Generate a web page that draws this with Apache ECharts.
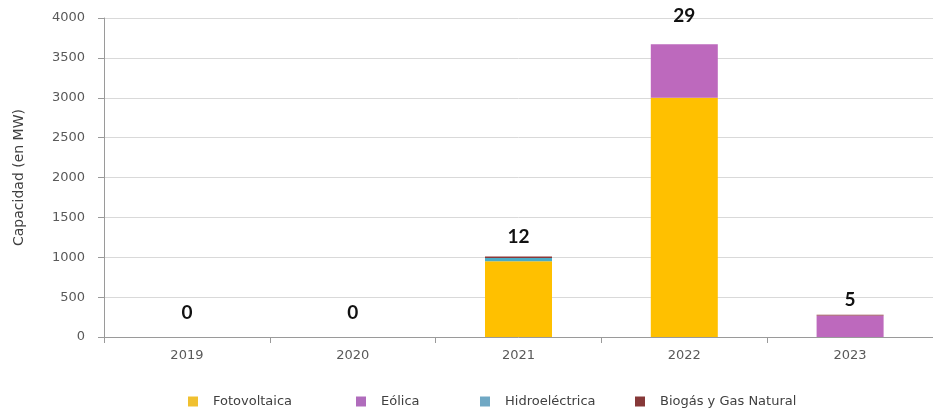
<!DOCTYPE html>
<html>
<head>
<meta charset="utf-8">
<script src="https://cdn.jsdelivr.net/npm/echarts@6/dist/echarts.min.js"></script>
<style>html,body{margin:0;padding:0;background:#fff}#c{width:933px;height:411px}</style>
</head>
<body>
<div id="c"></div>
<script>
const years = ['2019', '2020', '2021', '2022', '2023'];
const fotovoltaica = [0, 0, 950, 3000, 0];
const eolica = [0, 0, 0, 670, 270];
const hidroelectrica = [0, 0, 40, 0, 0];
const biogas = [0, 0, 20, 0, 8];
const projectCounts = [0, 0, 12, 29, 5];
const yTicks = [0, 500, 1000, 1500, 2000, 2500, 3000, 3500, 4000];

const labelGap = [15, 15, 10, 19, 5];
const colors = ['#FFC000', '#BD69BD', '#4BACC6', '#8B3838'];
const legendColors = ['#F0C030', '#B06CBC', '#70A8C4', '#863838'];
const names = ['Fotovoltaica', 'Eólica', 'Hidroeléctrica', 'Biogás y Gas Natural'];
const legendLeft = [188, 356, 480, 635];
const seriesData = [fotovoltaica, eolica, hidroelectrica, biogas];

const chart = echarts.init(document.getElementById('c'), null, {renderer: 'canvas'});
const font = 'DejaVu Sans';

const series = seriesData.map((d, i) => ({
  name: names[i], type: 'bar', stack: 'total', data: d,
  barWidth: 67, itemStyle: {color: colors[i]}, silent: true
}));
series.push({
  name: 'labels', type: 'bar', stack: 'total',
  data: projectCounts.map((c, i) => ({
    value: 0,
    label: {show: true, position: 'top', distance: labelGap[i], formatter: String(c)}
  })),
  barWidth: 67, itemStyle: {color: 'transparent'},
  label: {show: true, color: '#111', fontFamily: 'Lato', fontWeight: 'bold', fontSize: 19}
});

chart.setOption({
  animation: false,
  textStyle: {fontFamily: font},
  grid: {left: 104, top: 18, width: 835, height: 319, containLabel: false},
  legend: names.map((n, i) => ({
    data: [{name: n, itemStyle: {color: legendColors[i]}}],
    left: legendLeft[i], top: 395, itemWidth: 10, itemHeight: 10, itemGap: 0,
    icon: 'rect',
    textStyle: {fontFamily: font, fontSize: 13, color: '#404040', padding: [0, 0, 0, 10]},
    selectedMode: false, padding: 0
  })),
  xAxis: {
    type: 'category', data: years,
    axisLine: {lineStyle: {color: '#9A9A9A', width: 1}},
    axisTick: {show: true, alignWithLabel: false, length: 6, lineStyle: {color: '#9A9A9A'}},
    axisLabel: {color: '#595959', fontSize: 13, margin: 12, fontFamily: font}
  },
  yAxis: {
    type: 'value', min: yTicks[0], max: yTicks[yTicks.length - 1], interval: 500,
    name: 'Capacidad (en MW)', nameLocation: 'middle', nameGap: 78, nameRotate: 90,
    nameTextStyle: {color: '#404040', fontSize: 14, fontFamily: font},
    axisLine: {show: true, lineStyle: {color: '#9A9A9A'}},
    axisTick: {show: true, length: 6, lineStyle: {color: '#9A9A9A'}},
    axisLabel: {color: '#595959', fontSize: 13, margin: 19, fontFamily: font, formatter: v => String(v)},
    splitLine: {lineStyle: {color: '#D9D9D9'}}
  },
  series: series
});
</script>
</body>
</html>
